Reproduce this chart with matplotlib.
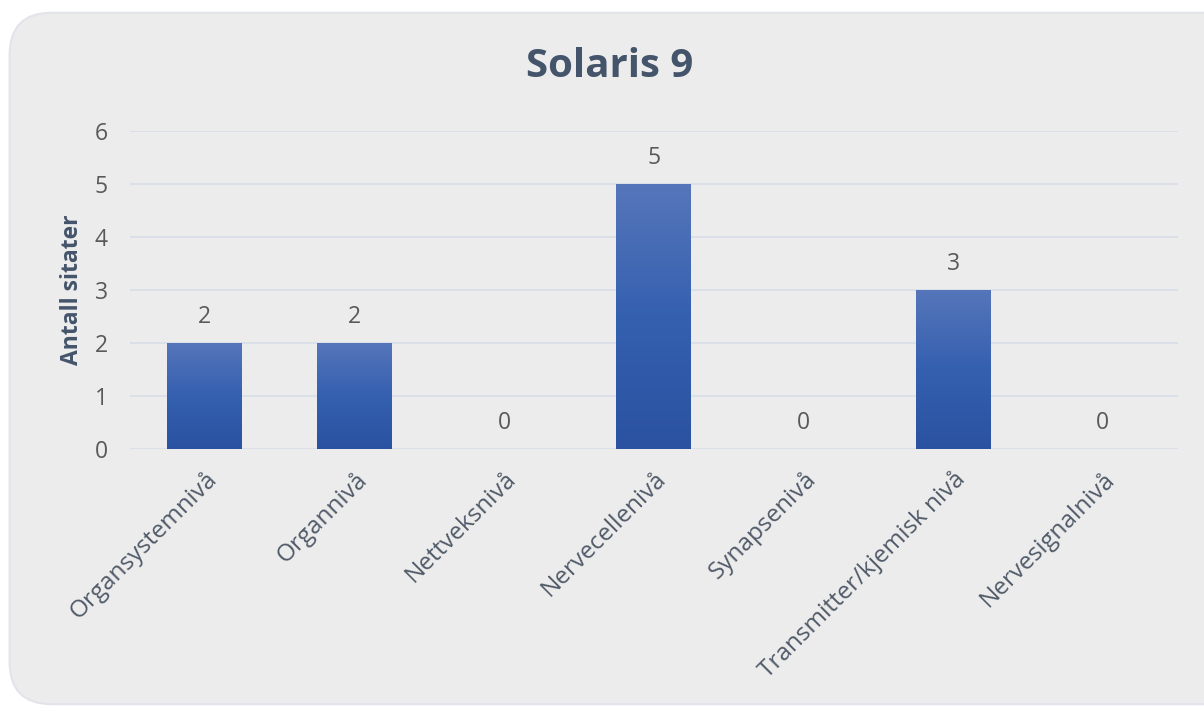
import numpy as np
import matplotlib.pyplot as plt
from matplotlib.patches import FancyBboxPatch
from matplotlib.colors import LinearSegmentedColormap

categories = ["Organsystemnivå", "Organnivå", "Nettveksnivå", "Nervecellenivå",
              "Synapseniv\u00e5", "Transmitter/kjemisk niv\u00e5", "Nervesignalniv\u00e5"]
counts = [2, 2, 0, 5, 0, 3, 0]
yticks = [0, 1, 2, 3, 4, 5, 6]

plt.rcParams['font.family'] = ['Open Sans', 'DejaVu Sans']

fig = plt.figure(figsize=(12.04, 7.07), dpi=100)
fig.patch.set_facecolor('white')

# rounded background card
card = FancyBboxPatch((0.008, 0.004), 1.05, 0.978, boxstyle="round,pad=0,rounding_size=0.035",
                      transform=fig.transFigure, facecolor='#ececec', edgecolor='#e2e4ea',
                      linewidth=1.5, mutation_aspect=1204/707, zorder=-5)
fig.patches.append(card)

ax = fig.add_axes([0.108, 0.365, 0.870, 0.450])
ax.set_facecolor('none')
ax.set_zorder(1)

x = np.arange(len(categories))
bars = ax.bar(x, counts, width=0.5, color='#3a62b0', zorder=2)

# vertical gradient on each bar
grad = np.linspace(0, 1, 256).reshape(-1, 1)
cmap = LinearSegmentedColormap.from_list('g', ['#2a52a0', '#3560b0', '#5676ba'])
for b in bars:
    h = b.get_height()
    if h <= 0:
        continue
    x0 = b.get_x()
    w = b.get_width()
    im = ax.imshow(grad, extent=[x0, x0 + w, 0, h], origin='lower', cmap=cmap,
                   aspect='auto', zorder=3)
    im.set_clip_path(b)

for xi, v in zip(x, counts):
    ax.text(xi, v + 0.27, str(v), ha='center', va='bottom', fontsize=16.5, color='#595959')

ax.set_xlim(-0.5, len(categories) - 0.5)
ax.set_ylim(0, 6)
ax.set_yticks(yticks)
ax.yaxis.grid(True, color='#dadfe8', linewidth=1.3, zorder=0)
ax.set_axisbelow(True)
for s in ax.spines.values():
    s.set_visible(False)
ax.tick_params(axis='both', length=0, labelsize=16.5, labelcolor='#595959')
ax.tick_params(axis='y', pad=16)
ax.set_xticks(x)
ax.set_xticklabels(categories, rotation=45, ha='right', rotation_mode='anchor',
                   fontsize=17.5, color='#505a68')
ax.tick_params(axis='x', pad=13)

ax.set_ylabel('Antall sitater', fontsize=16.5, fontweight='bold', color='#44546a', labelpad=8)

fig.text(0.506, 0.906, 'Solaris 9', ha='center', va='center', fontsize=29,
         fontweight='bold', color='#44546a')

fig.savefig('out.png', dpi=100, facecolor=fig.get_facecolor())
